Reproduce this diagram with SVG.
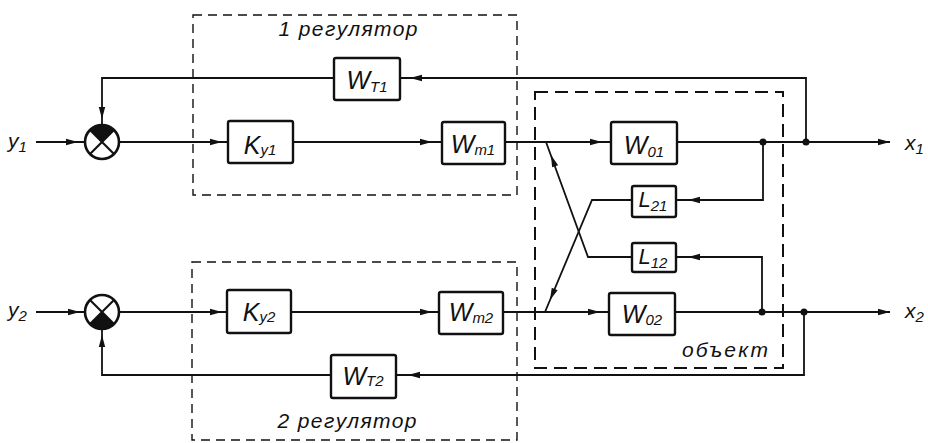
<svg xmlns="http://www.w3.org/2000/svg" xmlns:xlink="http://www.w3.org/1999/xlink" width="928" height="443" viewBox="0 0 928 443">
<style>
.bg{fill:#fff}
.box{fill:#fff;stroke:#111;stroke-width:2.4}
.ln{fill:none;stroke:#111;stroke-width:1.8;stroke-linejoin:miter}
.dash{fill:none;stroke:#111;stroke-width:1.4;stroke-dasharray:9 6}
.dash2{fill:none;stroke:#111;stroke-width:2;stroke-dasharray:13 7}
.t{font-family:"Liberation Sans","DejaVu Sans",sans-serif;font-style:italic;fill:#111}
.big{font-size:25px}
.mid{font-size:22px}
.sub{font-size:15px}
.cap{font-size:21px}
.io{font-size:21px}
.dot{fill:#111}
.sum{fill:#fff;stroke:#111;stroke-width:2.6}
.sx{stroke:#111;stroke-width:2.2}
</style>
<defs>
<path id="ah" d="M0,0 L-12,-3.2 L-12,3.2 Z" fill="#111"/>
</defs>
<rect class="bg" x="0" y="0" width="928" height="443"/>

<g id="regulator1">
<rect class="dash" x="193" y="15" width="324" height="180"/>
<text class="t cap" x="348" y="36" text-anchor="middle" textLength="139" lengthAdjust="spacing">1 регулятор</text>
</g>
<g id="regulator2">
<rect class="dash" x="192" y="262" width="325" height="178"/>
<text class="t cap" x="347" y="428" text-anchor="middle" textLength="139" lengthAdjust="spacing">2 регулятор</text>
</g>
<g id="object">
<rect class="dash2" x="535" y="92" width="248" height="276"/>
<text class="t cap" x="725" y="357" text-anchor="middle" textLength="86" lengthAdjust="spacing">объект</text>
</g>

<g id="connectors">
<polyline class="ln" points="806,142 806,78 400,78"/>
<polyline class="ln" points="334,78 102,78 102,125"/>
<line class="ln" x1="36" y1="142" x2="85" y2="142"/>
<line class="ln" x1="119" y1="142" x2="228" y2="142"/>
<line class="ln" x1="293" y1="142" x2="442" y2="142"/>
<line class="ln" x1="505" y1="142" x2="611" y2="142"/>
<line class="ln" x1="677" y1="142" x2="890" y2="142"/>
<polyline class="ln" points="763,142 763,200 676,200"/>
<polyline class="ln" points="632,200 592,200 545,312"/>
<polyline class="ln" points="762,312 762,257 676,257"/>
<polyline class="ln" points="632,257 588,257 546,142"/>
<line class="ln" x1="36" y1="312" x2="85" y2="312"/>
<line class="ln" x1="119" y1="312" x2="227" y2="312"/>
<line class="ln" x1="291" y1="312" x2="439" y2="312"/>
<line class="ln" x1="503" y1="312" x2="609" y2="312"/>
<line class="ln" x1="675" y1="312" x2="890" y2="312"/>
<polyline class="ln" points="804,312 804,375 396,375"/>
<polyline class="ln" points="331,375 102,375 102,329"/>
<use xlink:href="#ah" transform="translate(78,142)"/>
<use xlink:href="#ah" transform="translate(222,142)"/>
<use xlink:href="#ah" transform="translate(432,142)"/>
<use xlink:href="#ah" transform="translate(602,142)"/>
<use xlink:href="#ah" transform="translate(890,142)"/>
<use xlink:href="#ah" transform="translate(410,78) rotate(180)"/>
<use xlink:href="#ah" transform="translate(102,119) rotate(90)"/>
<use xlink:href="#ah" transform="translate(688,200) rotate(180)"/>
<use xlink:href="#ah" transform="translate(688,257) rotate(180)"/>
<use xlink:href="#ah" transform="translate(550,300) rotate(113)"/>
<use xlink:href="#ah" transform="translate(551,155) rotate(-110)"/>
<use xlink:href="#ah" transform="translate(80,312)"/>
<use xlink:href="#ah" transform="translate(222,312)"/>
<use xlink:href="#ah" transform="translate(432,312)"/>
<use xlink:href="#ah" transform="translate(600,312)"/>
<use xlink:href="#ah" transform="translate(890,312)"/>
<use xlink:href="#ah" transform="translate(408,375) rotate(180)"/>
<use xlink:href="#ah" transform="translate(102,335) rotate(-90)"/>
<circle class="dot" cx="763" cy="142" r="3.5"/>
<circle class="dot" cx="806" cy="142" r="3.5"/>
<circle class="dot" cx="762" cy="312" r="3.5"/>
<circle class="dot" cx="804" cy="312" r="3.5"/>
</g>

<g id="sum1">
<circle class="sum" cx="102" cy="142" r="17"/>
<path d="M102,142 L90,130 A17,17 0 0 1 114,130 Z" fill="#111"/>
<line class="sx" x1="90" y1="130" x2="114" y2="154"/>
<line class="sx" x1="114" y1="130" x2="90" y2="154"/>
</g>
<g id="sum2">
<circle class="sum" cx="102" cy="312" r="17"/>
<path d="M102,312 L114,324 A17,17 0 0 1 90,324 Z" fill="#111"/>
<line class="sx" x1="90" y1="300" x2="114" y2="324"/>
<line class="sx" x1="114" y1="300" x2="90" y2="324"/>
</g>

<g id="WT1"><rect class="box" x="334" y="58" width="66" height="42" rx="2"/>
<text class="t big" x="367" y="89" text-anchor="middle">W<tspan class="sub" dy="3">T1</tspan></text></g>
<g id="Ky1"><rect class="box" x="228" y="121" width="65" height="42" rx="2"/>
<text class="t big" x="260" y="154" text-anchor="middle">K<tspan class="sub" dy="1">y1</tspan></text></g>
<g id="Wm1"><rect class="box" x="442" y="122" width="63" height="42" rx="2"/>
<text class="t big" x="473" y="153" text-anchor="middle">W<tspan class="sub" dy="2">m1</tspan></text></g>
<g id="W01"><rect class="box" x="611" y="122" width="66" height="42" rx="2"/>
<text class="t big" x="644" y="154" text-anchor="middle">W<tspan class="sub" dy="3">01</tspan></text></g>
<g id="L21"><rect class="box" x="632" y="186" width="44" height="31" rx="2"/>
<text class="t mid" x="653" y="207" text-anchor="middle">L<tspan class="sub" dy="4">21</tspan></text></g>
<g id="L12"><rect class="box" x="632" y="243" width="44" height="29" rx="2"/>
<text class="t mid" x="653" y="264" text-anchor="middle">L<tspan class="sub" dy="4">12</tspan></text></g>
<g id="Ky2"><rect class="box" x="227" y="290" width="64" height="43" rx="2"/>
<text class="t big" x="259" y="321" text-anchor="middle">K<tspan class="sub" dy="1">y2</tspan></text></g>
<g id="Wm2"><rect class="box" x="439" y="292" width="64" height="42" rx="2"/>
<text class="t big" x="471" y="321" text-anchor="middle">W<tspan class="sub" dy="2">m2</tspan></text></g>
<g id="W02"><rect class="box" x="609" y="293" width="66" height="42" rx="2"/>
<text class="t big" x="642" y="323" text-anchor="middle">W<tspan class="sub" dy="2">02</tspan></text></g>
<g id="WT2"><rect class="box" x="331" y="355" width="65" height="43" rx="2"/>
<text class="t big" x="363" y="385" text-anchor="middle">W<tspan class="sub" dy="1">T2</tspan></text></g>

<g id="labels">
<text class="t io" x="8" y="148">y<tspan class="sub" dy="4">1</tspan></text>
<text class="t io" x="8" y="317">y<tspan class="sub" dy="4">2</tspan></text>
<text class="t io" x="905" y="150">x<tspan class="sub" dy="4">1</tspan></text>
<text class="t io" x="905" y="318">x<tspan class="sub" dy="4">2</tspan></text>
</g>
</svg>
